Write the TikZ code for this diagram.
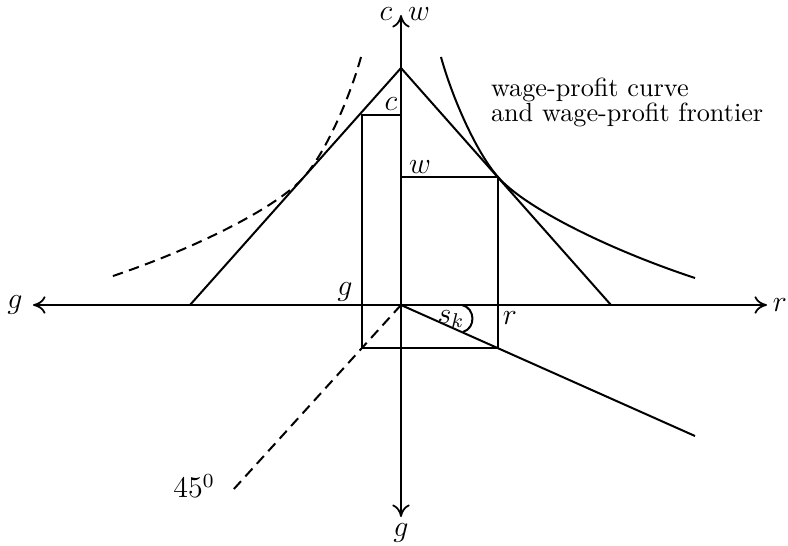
\documentclass[tikz,border=0pt]{standalone}
\usepackage{amsmath}
\usepackage{tikz}
\usetikzlibrary{arrows.meta,calc}
\tikzset{
  eje/.style={
    {Computer Modern Rightarrow[length=5pt,width=7pt]}-{Computer Modern Rightarrow[length=5pt,width=7pt]},
    line width=0.7pt
  },
  linea/.style={line width=0.8pt},
  guion/.style={line width=0.8pt, dash pattern=on 4.2pt off 2.6pt},
  etiq/.style={font=\large, inner sep=1pt},
  texto/.style={font=\fontsize{10.5}{10}\selectfont, inner sep=1pt}
}

\begin{document}
\begin{tikzpicture}[x=0.4pt,y=-0.4pt]
\useasboundingbox (0,0) rectangle (788,546);

% puntos
\coordinate (O) at (401,305);
\coordinate (xl) at (33,305);
\coordinate (xr) at (767,305);
\coordinate (yt) at (401,15);
\coordinate (yb) at (401,517);
\coordinate (A) at (401,68);
\coordinate (L) at (190,305);
\coordinate (R) at (611,305);
\coordinate (C0) at (401,115);
\coordinate (C1) at (362,115);
\coordinate (W0) at (401,177);
\coordinate (T) at (498,177);
\coordinate (T2) at (304,177);
\coordinate (B1) at (362,348);
\coordinate (B2) at (498,348);
\coordinate (S) at (695,436);
\coordinate (D) at (233,490);
\coordinate (a1) at (462,305);
\coordinate (a2) at (463,332);

% ejes
\draw[eje] (xl) -- (xr);
\draw[eje] (yb) -- (yt);

% triangulo y rectangulos
\draw[linea] (L) -- (A) -- (R);
\draw[linea] (C0) -- (C1) -- (B1) -- (B2) -- (T) -- (W0);
\draw[linea] (O) -- (S);
\draw[guion] (O) -- (D);
\draw[linea] (a1) to[bend left=75, looseness=1.3] (a2);

% curvas
\draw[linea] (441,57) .. controls (452,97) and (476,152) .. (T)
  .. controls (525,208) and (610,250) .. (695,278);
\draw[guion] (361,57) .. controls (350,97) and (326,152) .. (T2)
  .. controls (277,208) and (192,250) .. (107,278);

% etiquetas
\node[etiq] (lg) at (15,305) {$g$};
\node[etiq] (lr) at (780,305) {$r$};
\node[etiq] (lc) at (386,14) {$c$};
\node[etiq] (lw) at (419,14) {$w$};
\node[etiq] (lgb) at (401,533) {$g$};
\node[etiq] (lc2) at (391,104) {$c$};
\node[etiq] (lw2) at (420,167) {$w$};
\node[etiq] (lg2) at (345,292) {$g$};
\node[etiq] (lr2) at (510,318) {$r$};
\node[etiq] (lsk) at (451,319) {$s_k$};
\node[etiq] (l45) at (194,486) {$45^0$};
\node[texto, anchor=west, align=left] (ltxt) at (488,102)
  {wage-profit curve\\and wage-profit frontier};
\end{tikzpicture}
\end{document}
